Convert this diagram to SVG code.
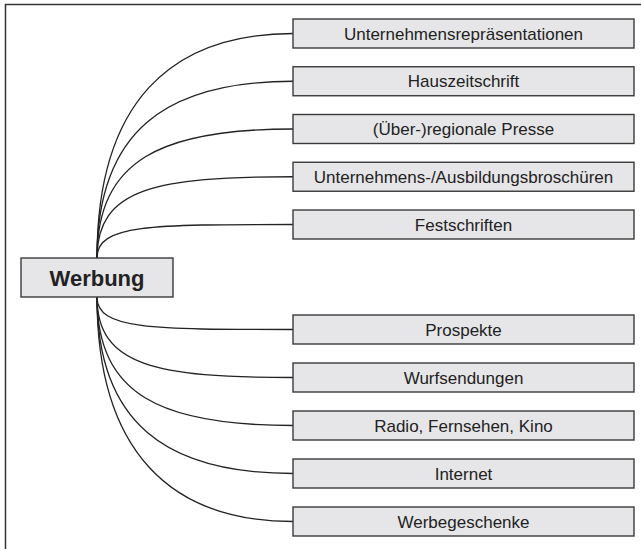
<svg xmlns="http://www.w3.org/2000/svg" width="641" height="549" viewBox="0 0 641 549">
<style>
.box{fill:#e6e6e8;stroke:#3a3a3a;stroke-width:1.4}
.t{font-family:"Liberation Sans",Arial,sans-serif;font-size:17px;fill:#222;text-anchor:middle}
.tb{font-family:"Liberation Sans",Arial,sans-serif;font-size:22px;font-weight:bold;fill:#222;text-anchor:middle}
.c{fill:none;stroke:#222;stroke-width:1.3}
.frame{fill:none;stroke:#333;stroke-width:1.5}
</style>
<rect width="641" height="549" fill="#fff"/>
<path class="frame" d="M641,4.5 H5.5 V549"/>
<g id="connectors">
<path class="c" d="M97,258 C97,103 170,33.5 293,33.5"/>
<path class="c" d="M97,258 C97,131 166,81.25 293,81.25"/>
<path class="c" d="M97,258 C97,160 161,129 293,129"/>
<path class="c" d="M97,258 C97,188 156,176.75 293,176.75"/>
<path class="c" d="M97,258 C97,224.5 150,224.5 293,224.5"/>
<path class="c" d="M97,297 C97,329.5 150,329.5 293,329.5"/>
<path class="c" d="M97,297 C97,366 156,377.5 293,377.5"/>
<path class="c" d="M97,297 C97,395 161,425.5 293,425.5"/>
<path class="c" d="M97,297 C97,423 166,473.5 293,473.5"/>
<path class="c" d="M97,297 C97,451 170,521.5 293,521.5"/>
</g>
<g id="werbung"><rect class="box" x="21" y="258" width="152" height="39"/><text class="tb" x="97" y="285.5">Werbung</text></g>
<g id="n1"><rect class="box" x="293" y="19" width="341" height="29"/><text class="t" x="463.5" y="39.5">Unternehmensrepräsentationen</text></g>
<g id="n2"><rect class="box" x="293" y="66.75" width="341" height="29"/><text class="t" x="463.5" y="87.25">Hauszeitschrift</text></g>
<g id="n3"><rect class="box" x="293" y="114.5" width="341" height="29"/><text class="t" x="463.5" y="135">(Über-)regionale Presse</text></g>
<g id="n4"><rect class="box" x="293" y="162.25" width="341" height="29"/><text class="t" x="463.5" y="182.75">Unternehmens-/Ausbildungsbroschüren</text></g>
<g id="n5"><rect class="box" x="293" y="210" width="341" height="29"/><text class="t" x="463.5" y="230.5">Festschriften</text></g>
<g id="n6"><rect class="box" x="293" y="315" width="341" height="29"/><text class="t" x="463.5" y="335.5">Prospekte</text></g>
<g id="n7"><rect class="box" x="293" y="363" width="341" height="29"/><text class="t" x="463.5" y="383.5">Wurfsendungen</text></g>
<g id="n8"><rect class="box" x="293" y="411" width="341" height="29"/><text class="t" x="463.5" y="431.5">Radio, Fernsehen, Kino</text></g>
<g id="n9"><rect class="box" x="293" y="459" width="341" height="29"/><text class="t" x="463.5" y="479.5">Internet</text></g>
<g id="n10"><rect class="box" x="293" y="507" width="341" height="29"/><text class="t" x="463.5" y="527.5">Werbegeschenke</text></g>
</svg>
